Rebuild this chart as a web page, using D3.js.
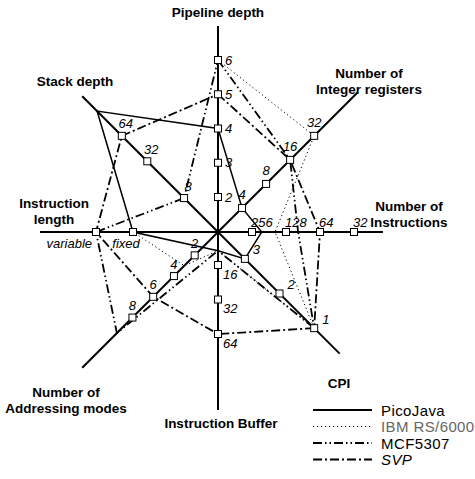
<!DOCTYPE html>
<html>
<head>
<meta charset="utf-8">
<script src="https://cdn.jsdelivr.net/npm/d3@7"></script>
<style>
  html, body { margin: 0; padding: 0; background: #fff; }
  svg text { font-family: "Liberation Sans", Arial, Helvetica, sans-serif; }
</style>
</head>
<body>
<svg id="chart" width="475" height="479"></svg>
<script>
// Eight processor characteristics, clockwise from the top
const axisNames = ["Pipeline depth", "Number of Integer registers", "Number of Instructions", "CPI",
                   "Instruction Buffer", "Number of Addressing modes", "Instruction length", "Stack depth"];
const axisTitleLines = [["Pipeline depth"], ["Number of", "Integer registers"], ["Number of", "Instructions"], ["CPI"],
                        ["Instruction Buffer"], ["Number of", "Addressing modes"], ["Instruction", "length"], ["Stack depth"]];

// Tick values on each axis
const pipelineTicks = [2, 3, 4, 5, 6];
const intRegTicks = [4, 8, 16, 32];
const instrTicks = [256, 128, 64, 32];
const cpiTicks = [3, 2, 1];
const bufferTicks = [16, 32, 64];
const addrModeTicks = [2, 4, 6, 8];
const lengthTicks = ["fixed", "variable"];
const stackTicks = [8, 32, 64];

// Series values, one per axis (null = not applicable, 0 = none, drawn at the centre)
const seriesNames = ["PicoJava", "IBM RS/6000", "MCF5307", "SVP"];
const picoJava  = [4, 4, 210, 3, 12, null, "fixed", 128];
const ibmRS6000 = [6, 32, 160, 1, 12, 3, "fixed", 0];
const mcf5307   = [6, 16, 100, 1, 12, 9.5, "variable", 8];
const svp       = [5, 16, 64, 1, 64, 6, "variable", 64];

const svg = d3.select("#chart");
const cx = 218, cy = 232;
const g = svg.append("g").attr("transform", `translate(${cx},${cy})`);

// Radial scale for every axis
const scales = [
  d3.scaleLinear().domain([2, 6]).range([35, 172]),
  d3.scaleLog().base(2).domain([4, 32]).range([34, 136]),
  d3.scaleLog().base(2).domain([256, 32]).range([34, 136]),
  d3.scaleLinear().domain([3, 1]).range([38, 136]),
  d3.scaleLog().base(2).domain([16, 64]).range([33, 102]),
  d3.scaleLinear().domain([2, 8]).range([33, 121]),
  d3.scaleOrdinal().domain(["fixed", "variable"]).range([85, 122]),
  d3.scaleLog().base(2).domain([8, 32, 64, 128]).range([48, 100, 136, 171])
];
const radius = (i, v) => v === 0 ? 0 : scales[i](v);
const tickSets = [pipelineTicks, intRegTicks, instrTicks, cpiTicks, bufferTicks, addrModeTicks, lengthTicks, stackTicks];
const axisLength = [206, 197, 165, 172, 178, 192, 178, 192];
const angle = i => i * Math.PI / 4;
const pt = (i, r) => d3.pointRadial(angle(i), r);

// Axes
axisNames.forEach((name, i) => {
  const [x2, y2] = pt(i, axisLength[i]);
  g.append("line").attr("x1", 0).attr("y1", 0).attr("x2", x2).attr("y2", y2)
    .attr("stroke", "#000").attr("stroke-width", 2);
});

// Series polygons
const seriesData = [picoJava, ibmRS6000, mcf5307, svp];
const seriesStyle = [
  { width: 1.5, dash: null },
  { width: 1, dash: "1.2,2.8" },
  { width: 1.8, dash: "9,3,1.5,3,1.5,3" },
  { width: 1.8, dash: "9,3,2,3" }
];
const lineGen = d3.line().curve(d3.curveLinearClosed);
seriesData.forEach((vals, s) => {
  const pts = vals.map((v, i) => v === null ? null : pt(i, radius(i, v))).filter(p => p !== null);
  g.append("path").attr("d", lineGen(pts)).attr("fill", "none")
    .attr("stroke", "#000").attr("stroke-width", seriesStyle[s].width)
    .attr("stroke-dasharray", seriesStyle[s].dash);
});

// Tick squares and labels
const labelOffset = [
  { dx: 7, dy: 0, anchor: "start" },
  { dx: 0, dy: -13, anchor: "middle" },
  { dx: -1, dy: -10, anchor: "start" },
  { dx: 8, dy: -9, anchor: "start" },
  { dx: 5, dy: 9, anchor: "start" },
  { dx: 0, dy: -12, anchor: "middle" },
  { dx: -4, dy: 11, anchor: "end" },
  { dx: 4, dy: -12, anchor: "middle" }
];
tickSets.forEach((ticks, i) => {
  ticks.forEach(t => {
    const [x, y] = pt(i, scales[i](t));
    g.append("rect").attr("x", x - 3.5).attr("y", y - 3.5).attr("width", 7).attr("height", 7)
      .attr("fill", "#fff").attr("stroke", "#000").attr("stroke-width", 1);
    let o = labelOffset[i];
    if (i === 6 && t === "fixed") o = { dx: -7, dy: 11, anchor: "middle" };
    g.append("text").attr("x", x + o.dx).attr("y", y + o.dy)
      .attr("dominant-baseline", "central").attr("text-anchor", o.anchor)
      .attr("font-size", 13).attr("font-style", "italic").text(t);
  });
});

// Axis titles
const titlePos = [[218, 12], [369, 73], [409, 206], [339, 383], [221, 423], [66, 392], [54, 203], [75, 81]];
axisTitleLines.forEach((lines, i) => {
  lines.forEach((line, k) => {
    svg.append("text").attr("x", titlePos[i][0]).attr("y", titlePos[i][1] + k * 16.5)
      .attr("text-anchor", "middle").attr("dominant-baseline", "central")
      .attr("font-size", 13.5).attr("font-weight", "bold").text(line);
  });
});

// Legend
const legend = svg.append("g").attr("transform", "translate(313,410)");
seriesNames.forEach((name, s) => {
  const y = s * 16.5;
  legend.append("line").attr("x1", 0).attr("x2", 59).attr("y1", y).attr("y2", y)
    .attr("stroke", "#000").attr("stroke-width", s === 1 ? 1 : 2)
    .attr("stroke-dasharray", seriesStyle[s].dash);
  legend.append("text").attr("x", 68).attr("y", y).attr("dominant-baseline", "central")
    .attr("font-size", 15).attr("letter-spacing", 0.4).attr("fill", s === 1 ? "#666" : "#000")
    .attr("font-style", s === 3 ? "italic" : "normal").text(name);
});
</script>
</body>
</html>
